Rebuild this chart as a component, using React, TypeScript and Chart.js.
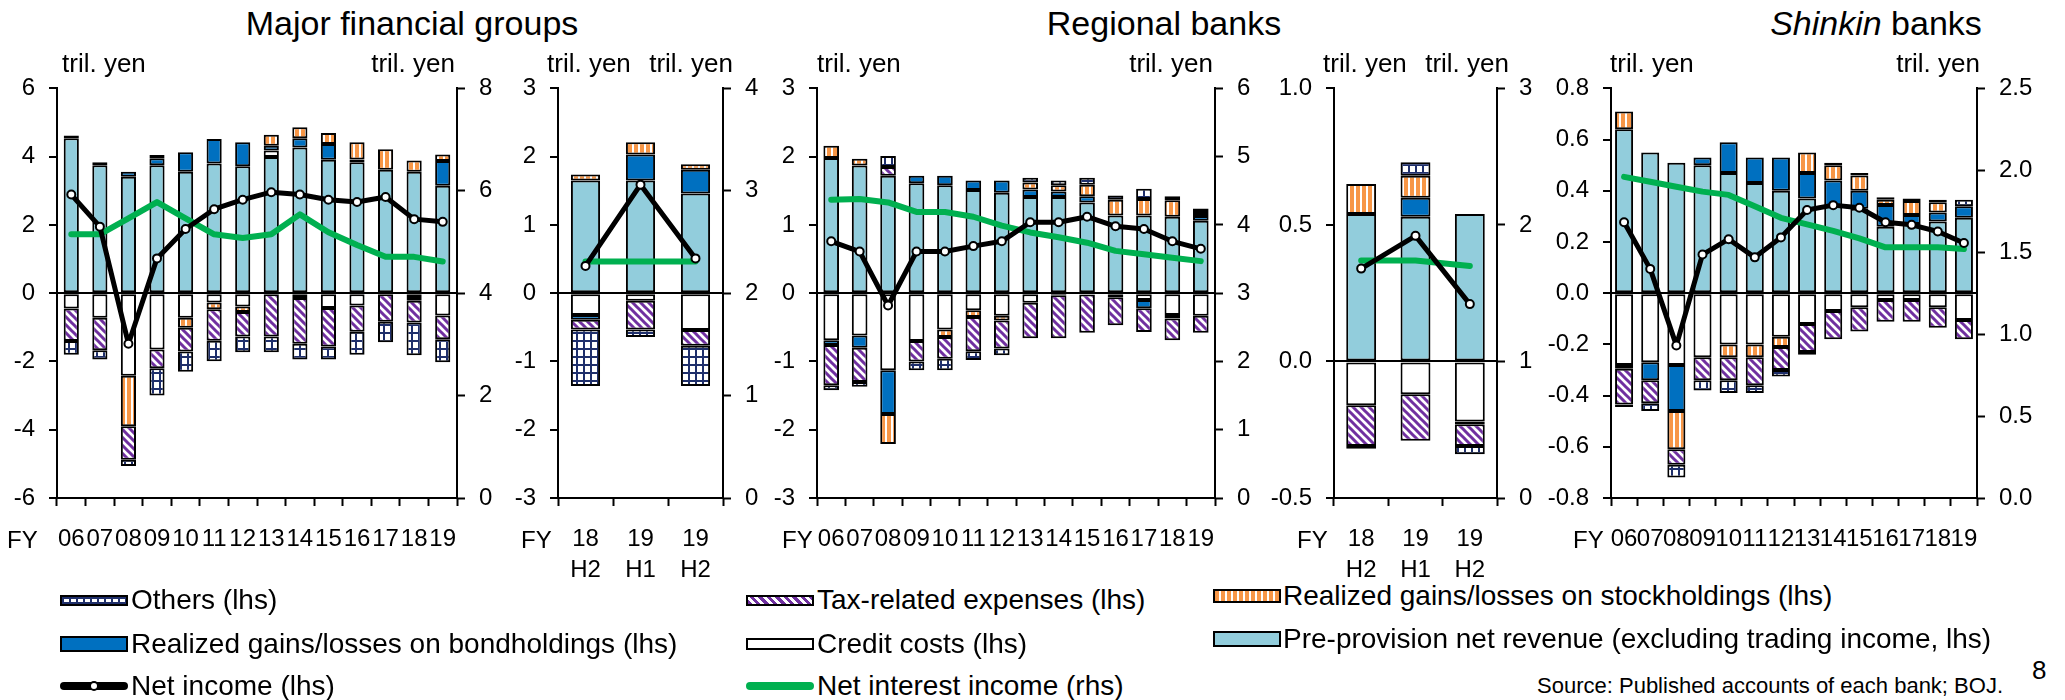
import React, { useEffect, useRef } from 'react';
import { Chart, registerables } from 'chart.js';

Chart.register(...registerables);

const FONT = '"Liberation Sans", Arial, Helvetica, sans-serif';

// ---------- categories ----------
const fyLabels = ['06', '07', '08', '09', '10', '11', '12', '13', '14', '15', '16', '17', '18', '19'];
const halfLabels = [['18', 'H2'], ['19', 'H1'], ['19', 'H2']];

// ---------- Major financial groups, fiscal years (tril. yen) ----------
const majorFyPpnr = [4.54, 3.75, 3.41, 3.75, 3.56, 3.8, 3.72, 3.99, 4.27, 3.91, 3.84, 3.62, 3.56, 3.15];
const majorFyCredit = [-0.45, -0.72, -2.42, -1.65, -0.72, -0.27, -0.39, 0.19, -0.14, -0.43, -0.36, 0, -0.14, -0.65];
const majorFyBond = [0.08, 0.09, 0.15, 0.2, 0.57, 0.72, 0.7, 0.14, 0.27, 0.46, 0.08, 0, -0.08, 0.72];
const majorFyStock = [0, 0, -1.48, 0.1, -0.29, -0.2, -0.16, 0.32, 0.32, 0.32, 0.5, 0.6, 0.33, 0.19];
const majorFyTax = [-0.95, -0.95, -0.98, -0.55, -0.7, -0.92, -0.72, -1.27, -1.34, -1.13, -0.77, -0.84, -0.64, -0.7];
const majorFyOthers = [-0.4, -0.27, -0.18, -0.8, -0.59, -0.6, -0.46, -0.46, -0.46, -0.38, -0.67, -0.6, -0.96, -0.67];
const majorFyNetIncome = [2.89, 1.95, -1.48, 1.02, 1.88, 2.46, 2.74, 2.96, 2.89, 2.74, 2.67, 2.82, 2.17, 2.09];
const majorFyNii = [5.15, 5.15, 5.46, 5.78, 5.46, 5.15, 5.08, 5.15, 5.54, 5.19, 4.94, 4.71, 4.71, 4.62];

// ---------- Major financial groups, half years ----------
const majorHPpnr = [1.65, 1.65, 1.46];
const majorHCredit = [-0.32, -0.11, -0.54];
const majorHBond = [-0.07, 0.38, 0.35];
const majorHStock = [0.09, 0.18, 0.08];
const majorHTax = [-0.14, -0.42, -0.23];
const majorHOthers = [-0.83, -0.11, -0.59];
const majorHNetIncome = [0.4, 1.59, 0.51];
const majorHNii = [2.31, 2.31, 2.31];

// ---------- Regional banks, fiscal years ----------
const regFyPpnr = [1.98, 1.87, 1.72, 1.61, 1.58, 1.51, 1.47, 1.41, 1.41, 1.33, 1.14, 1.14, 1.12, 1.06];
const regFyCredit = [-0.69, -0.62, -1.13, -0.7, -0.53, -0.25, -0.33, -0.14, -0.03, -0.02, -0.06, -0.1, -0.32, -0.33];
const regFyBond = [-0.07, -0.18, -0.64, 0.11, 0.14, 0.14, 0.18, 0.11, 0.08, 0.09, 0, -0.12, -0.05, 0.07];
const regFyStock = [0.18, 0.1, -0.44, 0, -0.11, -0.1, -0.07, 0.1, 0.09, 0.17, 0.23, 0.24, 0.24, 0.06];
const regFyTax = [-0.59, -0.5, 0.13, -0.3, -0.32, -0.5, -0.41, -0.52, -0.63, -0.56, -0.41, -0.35, -0.32, -0.25];
const regFyOthers = [-0.07, -0.07, 0.16, -0.13, -0.17, -0.13, -0.1, 0.07, 0.07, 0.1, 0.06, 0.15, 0.06, 0.05];
const regFyNetIncome = [0.76, 0.61, -0.18, 0.61, 0.61, 0.69, 0.76, 1.04, 1.04, 1.12, 0.98, 0.94, 0.76, 0.65];
const regFyNii = [4.37, 4.38, 4.33, 4.19, 4.19, 4.12, 3.99, 3.89, 3.82, 3.74, 3.62, 3.57, 3.52, 3.47];

// ---------- Regional banks, half years ----------
const regHPpnr = [0.54, 0.53, 0.54];
const regHCredit = [-0.16, -0.12, -0.22];
const regHBond = [0, 0.07, -0.01];
const regHStock = [0.11, 0.08, 0];
const regHTax = [-0.15, -0.17, -0.08];
const regHOthers = [-0.01, 0.05, -0.03];
const regHNetIncome = [0.34, 0.46, 0.21];
const regHNii = [1.74, 1.74, 1.7];

// ---------- Shinkin banks, fiscal years ----------
const shinFyPpnr = [0.64, 0.55, 0.51, 0.5, 0.47, 0.43, 0.4, 0.37, 0.34, 0.33, 0.26, 0.27, 0.28, 0.295];
const shinFyCredit = [-0.28, -0.27, -0.28, -0.25, -0.2, -0.2, -0.17, -0.12, -0.07, -0.055, -0.027, -0.027, -0.055, -0.105];
const shinFyBond = [-0.015, -0.07, -0.18, 0.03, 0.12, 0.1, 0.13, 0.1, 0.1, 0.07, 0.085, 0.035, 0.035, 0.045];
const shinFyStock = [0.07, 0, -0.15, 0, -0.05, -0.05, -0.04, 0.08, 0.06, 0.06, 0.02, 0.055, 0.04, 0];
const shinFyTax = [-0.14, -0.09, -0.06, -0.09, -0.09, -0.11, -0.09, -0.11, -0.11, -0.095, -0.085, -0.085, -0.08, -0.075];
const shinFyOthers = [-0.01, -0.03, -0.05, -0.04, -0.05, -0.03, -0.025, -0.01, 0.01, 0.01, 0.01, 0.01, 0.01, 0.025];
const shinFyNetIncome = [0.277, 0.095, -0.204, 0.151, 0.211, 0.14, 0.218, 0.325, 0.344, 0.334, 0.277, 0.267, 0.241, 0.196];
const shinFyNii = [1.96, 1.93, 1.9, 1.87, 1.85, 1.78, 1.71, 1.67, 1.63, 1.585, 1.53, 1.53, 1.53, 1.52];

// ---------- colours ----------
const C_PPNR = '#92CDDC';
const C_BOND = '#0070C0';
const C_STOCK = '#F79646';
const C_TAX = '#7030A0';
const C_OTHERS = '#1F2F6B';
const C_NII = '#00B050';

type PanelSpec = {
  labels: (string | string[])[];
  ppnr: number[]; credit: number[]; bond: number[]; stock: number[];
  tax: number[]; others: number[]; netIncome: number[]; nii: number[];
  yMin: number; yMax: number; yStep: number; yDec: number;
  y1Min: number; y1Max: number; y1Step: number; y1Dec: number;
  barPct: number; axisL: number; axisR: number;
};

const panels: PanelSpec[] = [
  { labels: fyLabels, ppnr: majorFyPpnr, credit: majorFyCredit, bond: majorFyBond, stock: majorFyStock, tax: majorFyTax, others: majorFyOthers, netIncome: majorFyNetIncome, nii: majorFyNii,
    yMin: -6, yMax: 6, yStep: 2, yDec: 0, y1Min: 0, y1Max: 8, y1Step: 2, y1Dec: 0, barPct: 0.53, axisL: 57, axisR: 457 },
  { labels: halfLabels, ppnr: majorHPpnr, credit: majorHCredit, bond: majorHBond, stock: majorHStock, tax: majorHTax, others: majorHOthers, netIncome: majorHNetIncome, nii: majorHNii,
    yMin: -3, yMax: 3, yStep: 1, yDec: 0, y1Min: 0, y1Max: 4, y1Step: 1, y1Dec: 0, barPct: 0.53, axisL: 558, axisR: 723 },
  { labels: fyLabels, ppnr: regFyPpnr, credit: regFyCredit, bond: regFyBond, stock: regFyStock, tax: regFyTax, others: regFyOthers, netIncome: regFyNetIncome, nii: regFyNii,
    yMin: -3, yMax: 3, yStep: 1, yDec: 0, y1Min: 0, y1Max: 6, y1Step: 1, y1Dec: 0, barPct: 0.55, axisL: 817, axisR: 1215 },
  { labels: halfLabels, ppnr: regHPpnr, credit: regHCredit, bond: regHBond, stock: regHStock, tax: regHTax, others: regHOthers, netIncome: regHNetIncome, nii: regHNii,
    yMin: -0.5, yMax: 1.0, yStep: 0.5, yDec: 1, y1Min: 0, y1Max: 3, y1Step: 1, y1Dec: 0, barPct: 0.55, axisL: 1334, axisR: 1497 },
  { labels: fyLabels, ppnr: shinFyPpnr, credit: shinFyCredit, bond: shinFyBond, stock: shinFyStock, tax: shinFyTax, others: shinFyOthers, netIncome: shinFyNetIncome, nii: shinFyNii,
    yMin: -0.8, yMax: 0.8, yStep: 0.2, yDec: 1, y1Min: 0, y1Max: 2.5, y1Step: 0.5, y1Dec: 1, barPct: 0.69, axisL: 1611, axisR: 1977 },
];

const LEFT_W = 80;
const RIGHT_W = 70;
const TOP_PAD = 24;
const PLOT_H = 414;
const XAXIS_H = 80;
const CANVAS_TOP = 60;

function makePattern(w: number, h: number, draw: (g: CanvasRenderingContext2D) => void) {
  const c = document.createElement('canvas');
  c.width = w; c.height = h;
  const g = c.getContext('2d') as CanvasRenderingContext2D;
  draw(g);
  return g.createPattern(c, 'repeat') as CanvasPattern;
}

function nz(arr: number[]) {
  return arr.map((v) => (v === 0 ? null : v));
}

function PanelChart({ p }: { p: PanelSpec }) {
  const ref = useRef<HTMLCanvasElement | null>(null);
  const width = p.axisR - p.axisL + LEFT_W + RIGHT_W;
  const height = TOP_PAD + PLOT_H + XAXIS_H;

  useEffect(() => {
    if (!ref.current) return;
    const othersPat = makePattern(7, 8, (g) => {
      g.fillStyle = '#fff'; g.fillRect(0, 0, 7, 8);
      g.fillStyle = C_OTHERS; g.fillRect(0, 0, 2, 8); g.fillRect(0, 0, 7, 2);
    });
    const taxPat = makePattern(8, 8, (g) => {
      g.fillStyle = '#fff'; g.fillRect(0, 0, 8, 8);
      g.strokeStyle = C_TAX; g.lineWidth = 3;
      g.beginPath();
      g.moveTo(-2, -2); g.lineTo(10, 10);
      g.moveTo(-2, 6); g.lineTo(2, 10);
      g.moveTo(6, -2); g.lineTo(10, 2);
      g.stroke();
    });
    const stockPat = makePattern(6, 4, (g) => {
      g.fillStyle = C_STOCK; g.fillRect(0, 0, 6, 4);
      g.fillStyle = '#fff'; g.fillRect(4, 0, 2, 4);
    });

    const barBase = {
      type: 'bar' as const,
      borderColor: '#000',
      borderWidth: 2,
      borderSkipped: false as const,
      yAxisID: 'y',
      order: 10,
      barPercentage: p.barPct,
      categoryPercentage: 1,
    };

    const tickFont = { family: FONT, size: 24 };
    const fmt = (dec: number) => (v: any) => Number(v).toFixed(dec);

    const chart = new Chart(ref.current, {
      type: 'bar',
      data: {
        labels: p.labels as any,
        datasets: [
          { ...barBase, label: 'Pre-provision net revenue', data: nz(p.ppnr), backgroundColor: C_PPNR },
          { ...barBase, label: 'Credit costs', data: nz(p.credit), backgroundColor: '#fff' },
          { ...barBase, label: 'Bond', data: nz(p.bond), backgroundColor: C_BOND },
          { ...barBase, label: 'Stock', data: nz(p.stock), backgroundColor: stockPat },
          { ...barBase, label: 'Tax', data: nz(p.tax), backgroundColor: taxPat },
          { ...barBase, label: 'Others', data: nz(p.others), backgroundColor: othersPat },
          {
            type: 'line', label: 'Net interest income', data: p.nii, yAxisID: 'y1', order: 2,
            borderColor: C_NII, borderWidth: 6, pointRadius: 0, tension: 0,
            borderCapStyle: 'round', borderJoinStyle: 'round', stack: 'nii',
          } as any,
          {
            type: 'line', label: 'Net income', data: p.netIncome, yAxisID: 'y', order: 1,
            borderColor: '#000', borderWidth: 5, tension: 0, borderJoinStyle: 'round',
            pointRadius: 4, pointBackgroundColor: '#fff', pointBorderColor: '#000', pointBorderWidth: 2,
            stack: 'ni',
          } as any,
        ],
      },
      options: {
        responsive: false,
        animation: false,
        devicePixelRatio: 1,
        layout: { padding: { top: TOP_PAD, left: 0, right: 0, bottom: 0 } },
        plugins: { legend: { display: false }, tooltip: { enabled: false } },
        scales: {
          x: {
            stacked: true,
            offset: true,
            grid: { display: true, offset: true, drawOnChartArea: false, tickLength: 8, tickColor: '#000', tickWidth: 2, color: '#000' },
            border: { display: true, color: '#000', width: 2 },
            ticks: { font: { ...tickFont, lineHeight: 1.3 }, color: '#000', padding: 18, maxRotation: 0, autoSkip: false },
            afterFit: (s: any) => { s.height = XAXIS_H; },
          },
          y: {
            position: 'left',
            stacked: true,
            min: p.yMin, max: p.yMax,
            ticks: { stepSize: p.yStep, font: tickFont, color: '#000', padding: 14, callback: fmt(p.yDec) },
            grid: {
              color: (ctx: any) => (ctx.tick && Math.abs(ctx.tick.value) < 1e-9 ? '#000' : 'rgba(0,0,0,0)'),
              lineWidth: 2, tickColor: '#000', tickLength: 8, tickWidth: 2,
            },
            border: { display: true, color: '#000', width: 2 },
            afterFit: (s: any) => { s.width = LEFT_W; },
          },
          y1: {
            position: 'right',
            stacked: false,
            min: p.y1Min, max: p.y1Max,
            ticks: { stepSize: p.y1Step, font: tickFont, color: '#000', padding: 14, callback: fmt(p.y1Dec) },
            grid: { drawOnChartArea: false, tickColor: '#000', tickLength: 8, tickWidth: 2, color: '#000' },
            border: { display: true, color: '#000', width: 2 },
            afterFit: (s: any) => { s.width = RIGHT_W; },
          },
        },
      } as any,
    });
    return () => chart.destroy();
  }, []);

  return (
    <canvas
      ref={ref}
      width={width}
      height={height}
      style={{ position: 'absolute', left: p.axisL - LEFT_W, top: CANVAS_TOP, width, height }}
    />
  );
}

function Txt({ x, y, size, align = 'left', children, style }: any) {
  const base: any = { position: 'absolute', top: y - 0.49 * size, fontSize: size, lineHeight: 1, whiteSpace: 'nowrap' };
  if (align === 'center') Object.assign(base, { left: x - 500, width: 1000, textAlign: 'center' });
  else if (align === 'right') Object.assign(base, { left: x - 1000, width: 1000, textAlign: 'right' });
  else base.left = x;
  return <div style={{ ...base, ...style }}>{children}</div>;
}

function Swatch({ x, y, w, h, style }: any) {
  return <div style={{ position: 'absolute', left: x, top: y - h / 2, width: w, height: h, boxSizing: 'border-box', border: '2px solid #000', ...style }} />;
}

function LineSwatch({ x, y, w, color, dot }: any) {
  return (
    <div style={{ position: 'absolute', left: x, top: y - 4, width: w, height: 8, background: color, borderRadius: 4 }}>
      {dot ? <div style={{ position: 'absolute', left: w / 2 - 5, top: -1, width: 6, height: 6, borderRadius: 5, background: '#fff', border: '2px solid #000' }} /> : null}
    </div>
  );
}

export default function App() {
  const trilY = 63;
  return (
    <div style={{ position: 'absolute', left: 0, top: 0, width: 2065, height: 700, background: '#fff', color: '#000', fontFamily: FONT, overflow: 'hidden' }}>
      {panels.map((p, i) => <PanelChart key={i} p={p} />)}

      <Txt x={412} y={23} size={34} align="center">Major financial groups</Txt>
      <Txt x={1164} y={23} size={34} align="center">Regional banks</Txt>
      <Txt x={1876} y={23} size={34} align="center"><i>Shinkin</i> banks</Txt>

      <Txt x={62} y={trilY} size={26}>tril. yen</Txt>
      <Txt x={455} y={trilY} size={26} align="right">tril. yen</Txt>
      <Txt x={547} y={trilY} size={26}>tril. yen</Txt>
      <Txt x={733} y={trilY} size={26} align="right">tril. yen</Txt>
      <Txt x={817} y={trilY} size={26}>tril. yen</Txt>
      <Txt x={1213} y={trilY} size={26} align="right">tril. yen</Txt>
      <Txt x={1323} y={trilY} size={26}>tril. yen</Txt>
      <Txt x={1509} y={trilY} size={26} align="right">tril. yen</Txt>
      <Txt x={1610} y={trilY} size={26}>tril. yen</Txt>
      <Txt x={1980} y={trilY} size={26} align="right">tril. yen</Txt>

      <Txt x={7} y={540} size={24}>FY</Txt>
      <Txt x={521} y={540} size={24}>FY</Txt>
      <Txt x={782} y={540} size={24}>FY</Txt>
      <Txt x={1297} y={540} size={24}>FY</Txt>
      <Txt x={1573} y={540} size={24}>FY</Txt>

      {/* legend */}
      <Swatch x={60} y={600} w={68} h={11} style={{ backgroundColor: '#fff', backgroundImage: `linear-gradient(90deg, ${C_OTHERS} 2px, transparent 2px), linear-gradient(${C_OTHERS} 2px, transparent 2px)`, backgroundSize: '7px 5px' }} />
      <Txt x={131} y={600} size={28}>Others (lhs)</Txt>
      <Swatch x={60} y={644} w={68} h={16} style={{ background: C_BOND }} />
      <Txt x={131} y={644} size={28}>Realized gains/losses on bondholdings (lhs)</Txt>
      <LineSwatch x={60} y={686} w={68} color="#000" dot />
      <Txt x={131} y={686} size={28}>Net income (lhs)</Txt>

      <Swatch x={746} y={600} w={68} h={11} style={{ background: `repeating-linear-gradient(45deg, ${C_TAX} 0 3px, #fff 3px 6px)` }} />
      <Txt x={817} y={600} size={28}>Tax-related expenses (lhs)</Txt>
      <Swatch x={746} y={644} w={68} h={12} style={{ background: '#fff' }} />
      <Txt x={817} y={644} size={28}>Credit costs (lhs)</Txt>
      <LineSwatch x={746} y={686} w={68} color={C_NII} />
      <Txt x={817} y={686} size={28}>Net interest income (rhs)</Txt>

      <Swatch x={1213} y={596} w={68} h={14} style={{ background: `repeating-linear-gradient(90deg, ${C_STOCK} 0 4px, #fff 4px 6px)` }} />
      <Txt x={1283} y={596} size={28}>Realized gains/losses on stockholdings (lhs)</Txt>
      <Swatch x={1213} y={639} w={68} h={16} style={{ background: C_PPNR }} />
      <Txt x={1283} y={639} size={28}>Pre-provision net revenue (excluding trading income, lhs)</Txt>

      <Txt x={2003} y={686} size={22} align="right">Source: Published accounts of each bank; BOJ.</Txt>
      <Txt x={2032} y={670} size={26}>8</Txt>
    </div>
  );
}
